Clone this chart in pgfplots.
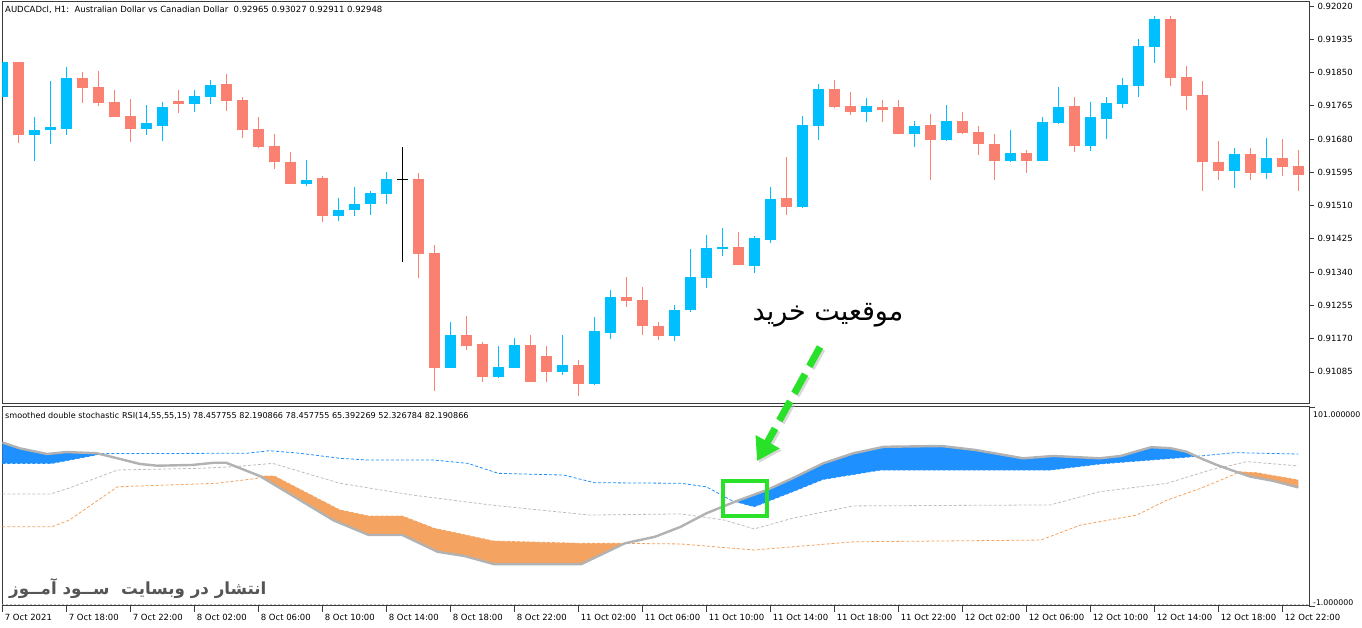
\documentclass[border=0pt]{standalone}
\usepackage{fontspec}
\setmainfont{DejaVu Sans}
\newfontfamily\arabicfont[Script=Arabic]{DejaVu Sans}
\TeXXeTstate=1
\usepackage{pgfplots}
\usepackage{pgfplotstable}
\pgfplotsset{compat=1.18}
\usetikzlibrary{arrows.meta}

\definecolor{bull}{RGB}{0,191,255}
\definecolor{bear}{RGB}{250,128,114}
\definecolor{dodger}{RGB}{30,144,255}
\definecolor{sandy}{RGB}{244,164,96}
\definecolor{mainline}{RGB}{178,178,178}
\definecolor{midlvl}{RGB}{190,190,190}
\definecolor{frame}{RGB}{60,60,60}
\definecolor{signal}{RGB}{40,225,40}
\newcommand\tickfont{\fontsize{8.5bp}{10bp}\selectfont}

% candles: bar index, open, high, low, close
\pgfplotstableread{
i o h l c
0 0.91788 0.91877 0.91788 0.91877
2 0.91689 0.91735 0.91625 0.91703
3 0.91703 0.91827 0.91668 0.91711
4 0.91706 0.91865 0.91690 0.91836
9 0.91705 0.91767 0.91690 0.91721
10 0.91712 0.91775 0.91676 0.91763
12 0.91770 0.91804 0.91749 0.91790
13 0.91788 0.91831 0.91770 0.91818
19 0.91565 0.91627 0.91560 0.91576
21 0.91484 0.91528 0.91471 0.91499
22 0.91499 0.91558 0.91484 0.91514
23 0.91515 0.91548 0.91487 0.91542
24 0.91540 0.91596 0.91515 0.91578
28 0.91096 0.91213 0.91094 0.91178
31 0.91072 0.91151 0.91070 0.91098
32 0.91096 0.91171 0.91094 0.91153
35 0.91086 0.91180 0.91078 0.91103
37 0.91055 0.91226 0.91052 0.91190
38 0.91185 0.91293 0.91170 0.91277
42 0.91176 0.91256 0.91164 0.91243
43 0.91242 0.91399 0.91239 0.91328
44 0.91326 0.91435 0.91300 0.91402
45 0.91399 0.91453 0.91380 0.91405
47 0.91356 0.91431 0.91338 0.91428
48 0.91423 0.91558 0.91415 0.91527
50 0.91505 0.91739 0.91503 0.91716
51 0.91714 0.91821 0.91678 0.91808
54 0.91749 0.91785 0.91724 0.91765
57 0.91694 0.91726 0.91660 0.91713
59 0.91678 0.91767 0.91676 0.91726
63 0.91625 0.91704 0.91622 0.91644
65 0.91625 0.91736 0.91623 0.91724
66 0.91722 0.91813 0.91719 0.91762
68 0.91663 0.91775 0.91650 0.91736
69 0.91732 0.91788 0.91681 0.91772
70 0.91770 0.91836 0.91759 0.91818
71 0.91816 0.91936 0.91788 0.91918
72 0.91916 0.91994 0.91875 0.91987
77 0.91597 0.91658 0.91556 0.91642
79 0.91592 0.91683 0.91579 0.91632
}\bulltab

\pgfplotstableread{
i o h l c
1 0.91877 0.91877 0.91669 0.91689
5 0.91836 0.91850 0.91772 0.91811
6 0.91813 0.91854 0.91765 0.91773
7 0.91775 0.91804 0.91735 0.91736
8 0.91739 0.91783 0.91673 0.91705
11 0.91776 0.91806 0.91747 0.91770
14 0.91821 0.91845 0.91752 0.91778
15 0.91780 0.91788 0.91683 0.91704
16 0.91706 0.91735 0.91658 0.91660
17 0.91662 0.91693 0.91604 0.91620
18 0.91621 0.91646 0.91566 0.91566
20 0.91581 0.91586 0.91468 0.91484
26 0.91577 0.91594 0.91324 0.91387
27 0.91389 0.91408 0.91035 0.91096
29 0.91178 0.91229 0.91141 0.91151
30 0.91155 0.91161 0.91060 0.91072
33 0.91153 0.91178 0.91058 0.91060
34 0.91126 0.91151 0.91058 0.91085
36 0.91103 0.91116 0.91023 0.91055
39 0.91277 0.91328 0.91252 0.91267
40 0.91269 0.91303 0.91179 0.91201
41 0.91202 0.91213 0.91167 0.91176
46 0.91405 0.91443 0.91357 0.91359
49 0.91529 0.91635 0.91485 0.91505
52 0.91808 0.91831 0.91758 0.91763
53 0.91765 0.91799 0.91742 0.91748
55 0.91762 0.91780 0.91724 0.91753
56 0.91763 0.91780 0.91692 0.91694
58 0.91716 0.91745 0.91574 0.91678
60 0.91726 0.91748 0.91693 0.91696
61 0.91698 0.91712 0.91638 0.91666
62 0.91667 0.91693 0.91576 0.91625
64 0.91644 0.91652 0.91594 0.91625
67 0.91765 0.91788 0.91646 0.91663
73 0.91987 0.91994 0.91816 0.91837
74 0.91839 0.91867 0.91753 0.91791
75 0.91793 0.91828 0.91546 0.91620
76 0.91621 0.91676 0.91576 0.91597
78 0.91642 0.91656 0.91574 0.91592
80 0.91632 0.91681 0.91586 0.91609
81 0.91612 0.91652 0.91548 0.91589
}\beartab

\pgfplotstableread{
i o h l c
25 0.91577 0.91659 0.91366 0.91577
}\dojitab

\begin{document}
\begin{tikzpicture}
\path[use as bounding box, fill=white] (0,0) rectangle (1362bp,628bp);

% ---------- price panel ----------
\begin{axis}[
    at={(2.3bp,626bp)}, anchor=north west, scale only axis,
    width=1306.7bp, height=402bp,
    xmin=0, xmax=81.67, ymin=0.91003, ymax=0.92030,
    axis line style={draw=frame, line width=1bp},
    xtick=\empty,
    ytick={0.91085,0.91170,0.91255,0.91340,0.91425,0.91510,0.91595,0.91680,0.91765,0.91850,0.91935,0.92020},
    yticklabels={0.91085,0.91170,0.91255,0.91340,0.91425,0.91510,0.91595,0.91680,0.91765,0.91850,0.91935,0.92020},
    ytick pos=right, yticklabel pos=right, tick align=outside,
    major tick length=5bp, tick style={draw=frame, line width=0.8bp},
    yticklabel style={anchor=west, font=\tickfont, text=black},
]
% wicks
\addplot[draw=none, mark=none, forget plot, error bars/.cd, y dir=plus, y explicit,
    error mark=none, error bar style={draw=bull, solid, line width=1.3bp}]
    table[x=i, y=l, y error plus expr=\thisrow{h}-\thisrow{l}] {\bulltab};
\addplot[draw=none, mark=none, forget plot, error bars/.cd, y dir=plus, y explicit,
    error mark=none, error bar style={draw=bear, solid, line width=1.3bp}]
    table[x=i, y=l, y error plus expr=\thisrow{h}-\thisrow{l}] {\beartab};
\addplot[draw=none, mark=none, forget plot, error bars/.cd, y dir=plus, y explicit,
    error mark=none, error bar style={draw=black, solid, line width=1.3bp}]
    table[x=i, y=l, y error plus expr=\thisrow{h}-\thisrow{l}] {\dojitab};
% bodies
\addplot[draw=none, mark=none, forget plot, error bars/.cd, y dir=plus, y explicit,
    error mark=none, error bar style={draw=bull, solid, line width=10.7bp}]
    table[x=i, y=o, y error plus expr=\thisrow{c}-\thisrow{o}] {\bulltab};
\addplot[draw=none, mark=none, forget plot, error bars/.cd, y dir=plus, y explicit,
    error mark=none, error bar style={draw=bear, solid, line width=10.7bp}]
    table[x=i, y=c, y error plus expr=\thisrow{o}-\thisrow{c}] {\beartab};
\addplot[only marks, mark=-, mark size=5.5bp, mark options={draw=black, line width=1.2bp}, forget plot]
    table[x=i, y=c] {\dojitab};
\end{axis}

% ---------- indicator panel ----------
\begin{axis}[
    at={(2.3bp,221bp)}, anchor=north west, scale only axis,
    width=1306.7bp, height=199bp,
    xmin=0, xmax=81.67, ymin=-1, ymax=101,
    axis line style={draw=frame, line width=1bp},
    xtick={0,4,...,80},
    xticklabels={7 Oct 2021,7 Oct 18:00,7 Oct 22:00,8 Oct 02:00,8 Oct 06:00,8 Oct 10:00,8 Oct 14:00,8 Oct 18:00,8 Oct 22:00,11 Oct 02:00,11 Oct 06:00,11 Oct 10:00,11 Oct 14:00,11 Oct 18:00,11 Oct 22:00,12 Oct 02:00,12 Oct 06:00,12 Oct 10:00,12 Oct 14:00,12 Oct 18:00,12 Oct 22:00},
    xtick pos=bottom, ytick pos=right, tick align=outside,
    major tick length=6bp, tick style={draw=frame, line width=0.8bp},
    xticklabel style={anchor=north west, font=\tickfont, text=black, xshift=-1bp, yshift=1bp},
    ytick={-1,101}, yticklabels={,},
]
\addplot[mark=none, draw=midlvl, dash pattern=on 2bp off 2bp, line width=0.7bp, forget plot]
    coordinates {(0,0) (81.67,0)};
% upper level
\addplot[mark=none, draw=dodger, dash pattern=on 3bp off 2bp, line width=0.8bp] coordinates {
(0,72.1) (3.1,72.1) (6.3,77.1) (15.3,77.3) (16.7,78.6) (18.6,77.3) (21.1,74.7) (22.9,73.8)
(27.0,73.8) (29.1,72.1) (31.0,67.0) (35.1,66.1) (37.0,62.2) (42.4,61.9) (44.0,60.1) (45.6,53.0)
(47.0,49.9) (49.4,57.6) (51.3,63.9) (54.9,68.7) (65.5,68.7) (68.6,71.8) (73.9,75.2) (74.9,75.9)
(77.0,77.6) (81.0,76.9)};
% middle level
\addplot[mark=none, draw=midlvl, dash pattern=on 3bp off 2bp, line width=0.8bp] coordinates {
(0,56.4) (3.0,56.4) (4.2,59.5) (7.2,68.7) (12.4,69.6) (14.5,70.4) (16.9,72.1) (21.1,61.9)
(25.6,55.9) (30.5,50.8) (36.7,45.6) (42.4,46.2) (45.1,43.1) (47.0,38.5) (49.4,44.0) (53.2,50.3)
(65.5,50.8) (68.6,57.6) (72.8,61.9) (75.5,68.7) (77.8,73.0) (81.0,70.8)};
% lower level
\addplot[mark=none, draw=sandy, dash pattern=on 3bp off 2bp, line width=0.8bp] coordinates {
(0,39.6) (3.1,39.6) (4.2,43.1) (7.2,60.1) (13.4,61.9) (15.9,64.4) (16.1,65.6) (17.0,65.6)
(21.1,48.2) (22.9,45.1) (25.0,45.1) (27.0,38.8) (30.7,32.3) (36.2,31.1) (38.6,31.1) (42.4,30.8)
(47.0,27.7) (53.2,31.9) (64.9,32.8) (67.4,40.5) (70.9,45.6) (72.8,53.3) (74.9,59.3) (76.9,66.1)
(77.3,67.8) (78.4,67.3) (81.0,63.6)};
% fills: main line against the level it has crossed
\addplot[fill=dodger, draw=none] coordinates {
(0,82.8) (1.1,79.8) (2.8,76.9) (4.0,77.9) (5.9,77.3) (6.3,77.1) (3.1,72.1) (0,72.1)};
\addplot[fill=dodger, draw=none] coordinates {
(45.8,52.5) (47.8,58.5) (49.4,64.5) (51.3,72.1) (53.2,77.3) (55.1,80.6) (58.7,81.0) (60.8,79.0)
(63.8,74.7) (65.7,75.9) (68.6,74.7) (69.9,75.9) (71.8,80.4) (73.0,79.9) (74.0,78.1) (74.6,75.8)
(73.9,75.2) (68.6,71.8) (65.5,68.7) (54.9,68.7) (51.3,63.9) (49.4,57.6) (47.0,49.9)};
\addplot[fill=sandy, draw=none] coordinates {
(16.1,65.6) (18.8,52.3) (20.7,42.9) (22.9,35.4) (25.0,35.4) (27.2,26.8) (28.9,24.6) (30.7,20.5)
(36.2,20.5) (38.9,31.1) (38.6,31.1) (36.2,31.1) (30.7,32.3) (27.0,38.8) (25.0,45.1) (22.9,45.1)
(21.1,48.2) (17.0,65.6)};
\addplot[fill=sandy, draw=none] coordinates {
(77.15,67.5) (78.0,65.3) (79.4,63.2) (81.0,59.8) (81.0,63.6) (78.4,67.3) (77.3,67.8)};
% main line
\addplot[mark=none, draw=mainline, line width=2.4bp, line join=round] coordinates {
(0,82.8) (1.1,79.8) (2.8,76.9) (4.0,77.9) (5.9,77.3) (7.2,74.7) (8.6,71.8) (9.7,70.9)
(11.9,71.3) (13.2,72.4) (14.0,72.4) (16.1,65.6) (18.8,52.3) (20.7,42.9) (22.9,35.4) (25.0,35.4)
(27.2,26.8) (28.9,24.6) (30.7,20.5) (36.2,20.5) (38.9,31.1) (40.8,34.5) (42.4,39.6) (44.0,46.5)
(45.9,52.8) (47.8,58.5) (49.4,64.5) (51.3,72.1) (53.2,77.3) (55.1,80.6) (58.7,81.0) (60.8,79.0)
(63.8,74.7) (65.7,75.9) (68.6,74.7) (69.9,75.9) (71.8,80.4) (73.0,79.9) (74.0,78.1) (74.9,74.7)
(75.9,71.3) (76.9,68.4) (78.0,65.3) (79.4,63.2) (81.0,59.8)};
\end{axis}

% ---------- texts and annotations ----------
\node[anchor=west, inner sep=0pt, font=\tickfont] at (5bp,618bp)
  {AUDCADcl, H1:\ \ Australian Dollar vs Canadian Dollar\ \ 0.92965 0.93027 0.92911 0.92948};
\node[anchor=west, inner sep=0pt, font=\fontsize{8.1bp}{10bp}\selectfont] at (5bp,212.5bp)
  {smoothed double stochastic RSI(14,55,55,15) 78.457755 82.190866 78.457755 65.392269 52.326784 82.190866};
\node[anchor=west, inner sep=0pt, font=\fontsize{7.8bp}{10bp}\selectfont] at (1313bp,213bp) {101.000000};
\node[anchor=west, inner sep=0pt, font=\fontsize{7.8bp}{10bp}\selectfont] at (1313bp,25bp) {-1.000000};

\node[inner sep=0pt] at (828bp,313bp)
  {\fontsize{27bp}{31bp}\selectfont\arabicfont\beginR موقعیت خرید\endR};
\node[anchor=west, inner sep=0pt, text={rgb,255:red,85;green,85;blue,85}] at (9bp,39bp)
  {\fontsize{16.7bp}{20bp}\selectfont\arabicfont\bfseries\beginR انتشار در وبسایت\ \ ســود آمــوز\endR};

\draw[signal, line width=3.5bp] (723bp,147bp) rectangle (767bp,112bp);
\draw[black!25, opacity=0.6, line width=7bp, dash pattern=on 22bp off 9bp, -{Triangle[length=22bp, width=26bp]}]
  (822bp,279bp) -- (759bp,165bp);
\draw[signal, line width=7bp, dash pattern=on 22bp off 9bp, -{Triangle[length=22bp, width=26bp]}]
  (820bp,281bp) -- (757bp,167bp);
\end{tikzpicture}
\end{document}
